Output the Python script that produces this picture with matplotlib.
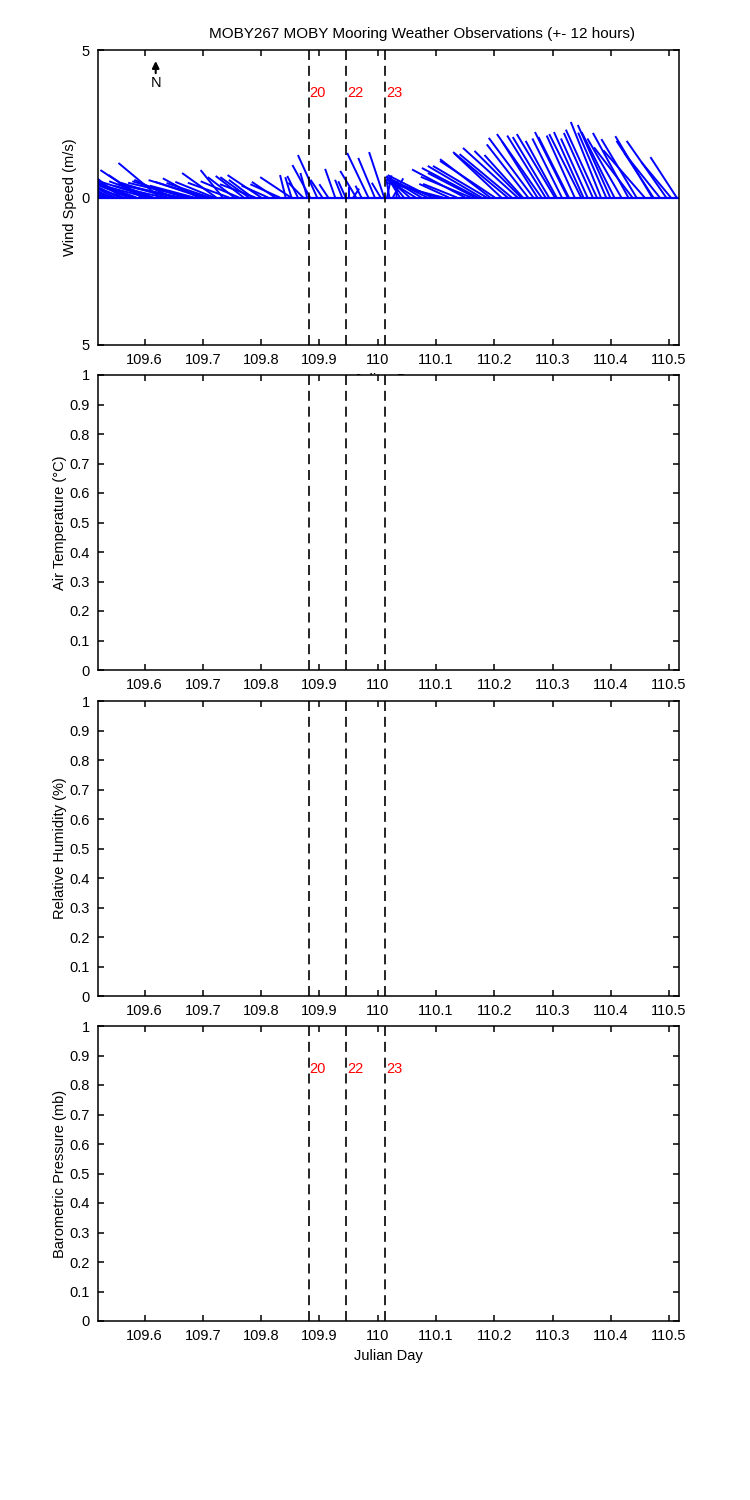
import matplotlib
matplotlib.use('Agg')
import matplotlib.pyplot as plt
import numpy as np
from matplotlib.collections import LineCollection

plt.rcParams['font.family'] = ['Liberation Sans', 'DejaVu Sans']

# wind sticks: julian day, east (u) and north (v) components in m/s
wind_day = [109.522, 109.528, 109.532, 109.535, 109.542, 109.545, 109.549, 109.556,
            109.560, 109.563, 109.571, 109.578, 109.582, 109.586, 109.595, 109.596,
            109.605, 109.610, 109.615, 109.626, 109.632, 109.640, 109.648, 109.655,
            109.662, 109.670, 109.678, 109.685, 109.692, 109.698, 109.706, 109.712,
            109.719, 109.723, 109.734, 109.745, 109.754, 109.762, 109.770, 109.779,
            109.785, 109.790, 109.800, 109.812, 109.824, 109.832,
            109.842, 109.851, 109.852, 109.863, 109.872, 109.879, 109.884,
            109.896, 109.905, 109.915, 109.927, 109.939, 109.945, 109.950, 109.958,
            109.963, 109.972, 109.984, 109.995, 110.005, 110.011, 110.016, 110.020,
            110.026, 110.032, 110.038, 110.045, 110.055, 110.065, 110.075, 110.085,
            110.093, 110.102, 110.112, 110.122, 110.136, 110.150, 110.160, 110.167,
            110.172, 110.178, 110.187, 110.193, 110.201, 110.212, 110.223, 110.230,
            110.240, 110.246, 110.249, 110.258, 110.267, 110.274, 110.281, 110.288,
            110.294, 110.304, 110.307, 110.316, 110.326, 110.328, 110.338, 110.349,
            110.353, 110.360, 110.369, 110.376, 110.383, 110.392, 110.399, 110.406,
            110.418, 110.430, 110.437, 110.444, 110.458, 110.471, 110.473, 110.484,
            110.495, 110.503, 110.513]
wind_u = [-0.8, -1.3, -1.5, -1.7, -1.4, -1.8, -2.0, -1.6,
          -1.2, -1.9, -1.3, -1.6, -1.8, -1.4, -1.4, -1.14,
          -1.7, -1.9, -1.5, -1.4, -1.7, -1.6, -1.3, -2.0,
          -1.6, -1.8, -2.1, -1.5, -1.2, -1.58, -1.96, -1.47,
          -1.31, -1.16, -0.75, -1.4, -0.9, -1.3, -0.95, -0.97,
          -0.8, -1.2, -1.14, -0.9, -0.79, -1.0,
          -0.19, -1.04, -0.21, -0.36, -0.5, -0.23, -0.6,
          -0.65, -0.4, -0.3, -0.34, -0.24, -0.25, 0.0, 0.2,
          -0.54, -0.2, -0.72, -0.56, -0.3, -0.51, 0.15, -0.1,
          0.35, 0.05, -0.3, -0.5, -0.8, -1.0, -1.2, -1.35,
          -1.5, -1.6, -1.9, -1.0, -1.15, -1.8, -1.7, -1.6,
          -1.9, -1.82, -1.82, -1.7, -1.86, -1.6, -1.85, -1.77,
          -1.85, -1.58, -1.3, -1.4, -1.51, -1.2, -1.51, -1.3,
          -1.23, -1.29, -1.05, -1.0, -1.11, -1.03, -0.95, -1.08,
          -1.0, -0.9, -0.98, -1.05, -1.02, -0.95, -1.1, -1.11,
          -1.15, -1.2, -1.3, -1.19, -1.4, -1.25, -1.25, -1.2,
          -1.34, -1.0, -0.89]
wind_v = [0.45, 0.65, 0.55, 0.9, 0.7, 0.6, 1.0, 0.8,
          0.95, 0.7, 0.55, 0.6, 0.75, 0.5, 0.93, 0.76,
          0.45, 0.6, 0.55, 1.17, 0.4, 0.5, 0.6, 0.45,
          0.35, 0.55, 0.5, 0.4, 0.65, 0.53, 0.59, 0.49,
          0.53, 0.83, 0.93, 0.5, 0.69, 0.55, 0.73, 0.69,
          0.6, 0.45, 0.76, 0.4, 0.53, 0.45,
          0.76, 0.69, 0.69, 0.73, 0.5, 0.83, 1.1,
          1.44, 0.6, 0.45, 0.97, 0.6, 0.55, 0.35, 0.3,
          0.9, 0.4, 1.51, 1.34, 0.5, 1.54, 0.75, 0.6,
          0.65, 0.55, 0.5, 0.6, 0.7, 0.62, 0.72, 0.68,
          0.76, 0.55, 0.5, 0.46, 0.46, 0.95, 0.7, 0.83,
          1.0, 1.07, 1.07, 1.3, 1.24, 1.5, 1.54, 1.47,
          1.68, 1.58, 1.44, 1.8, 2.02, 1.9, 2.15, 2.1,
          2.05, 2.15, 1.92, 2.0, 2.22, 2.05, 2.1, 2.15,
          2.22, 2.0, 2.19, 2.3, 2.56, 2.2, 2.46, 2.22,
          2.0, 2.19, 1.7, 1.98, 1.6, 2.08, 1.92, 1.5,
          1.92, 1.2, 1.37]

# marked events
event_day = [109.882, 109.946, 110.013]
event_label = ['20', '22', '23']

x_lim = (109.52, 110.517)
x_ticks = [109.6, 109.7, 109.8, 109.9, 110.0, 110.1, 110.2, 110.3, 110.4, 110.5]
x_ticklabels = ['109.6', '109.7', '109.8', '109.9', '110', '110.1', '110.2', '110.3', '110.4', '110.5']
unit_ticks = [0, 0.1, 0.2, 0.3, 0.4, 0.5, 0.6, 0.7, 0.8, 0.9, 1]
unit_ticklabels = ['0', '0.1', '0.2', '0.3', '0.4', '0.5', '0.6', '0.7', '0.8', '0.9', '1']

ylabels = ['Wind Speed (m/s)', 'Air Temperature (\u00b0C)', 'Relative Humidity (%)', 'Barometric Pressure (mb)']
title = 'MOBY267 MOBY Mooring Weather Observations (+- 12 hours)'

fig = plt.figure(figsize=(7.5, 15), dpi=100)
fs = 10.5

left, width, height = 98 / 750, 581 / 750, 295 / 1500
tops = [50, 375, 701, 1026]
axes = []
for top in tops:
    ax = fig.add_axes([left, 1 - (top + 295) / 1500, width, height])
    axes.append(ax)

for i, ax in enumerate(axes):
    ax.set_xlim(*x_lim)
    ax.set_xticks(x_ticks)
    ax.set_xticklabels(x_ticklabels)
    ax.tick_params(direction='in', length=4.5, width=1.1, top=True, right=True,
                   labelsize=fs, pad=6)
    for s in ax.spines.values():
        s.set_linewidth(1.1)
    for d in event_day:
        ax.axvline(d, color='black', lw=1.2, dashes=(6, 3.5), zorder=3)
    ax.set_ylabel(ylabels[i], fontsize=fs)

# wind panel
ax = axes[0]
ax.set_ylim(-5, 5)
ax.set_yticks([-5, 0, 5])
ax.set_yticklabels(['5', '0', '5'])
ax.yaxis.set_label_coords(-0.036, 0.5)
ax.set_xlabel('Julian Day', fontsize=fs)
ax.xaxis.set_label_coords(0.5, -0.095)

fig.canvas.draw()
bb = ax.get_window_extent()
k = ((x_lim[1] - x_lim[0]) / bb.width) / (10 / bb.height)
segs = [[(t, 0), (t + uu * k, vv)] for t, uu, vv in zip(wind_day, wind_u, wind_v)]
ax.add_collection(LineCollection(segs, colors='#0000ff', linewidths=1.4, zorder=2))
ax.plot(x_lim, [0, 0], color='#0000ff', lw=1.6, zorder=2)

ax.annotate('', xy=(109.619, 4.72), xytext=(109.619, 4.12),
            arrowprops=dict(arrowstyle='-|>', color='black', lw=1.5, mutation_scale=10))
ax.text(109.619, 3.88, 'N', ha='center', va='center', fontsize=fs)
for d, lab in zip(event_day, event_label):
    ax.text(d + 0.001, 3.54, lab, color='red', ha='left', va='center', fontsize=fs)

for ax in axes[1:]:
    ax.set_ylim(0, 1)
    ax.set_yticks(unit_ticks)
    ax.set_yticklabels(unit_ticklabels)
    ax.yaxis.set_label_coords(-0.053, 0.5)

for d, lab in zip(event_day, event_label):
    axes[3].text(d + 0.001, 0.854, lab, color='red', ha='left', va='center', fontsize=fs)

axes[3].set_xlabel('Julian Day', fontsize=fs)
axes[3].xaxis.set_label_coords(0.5, -0.095)

fig.text(422 / 750, 1 - 34 / 1500, title, ha='center', va='center', fontsize=fs + 0.5)

fig.savefig('out.png', dpi=100)
